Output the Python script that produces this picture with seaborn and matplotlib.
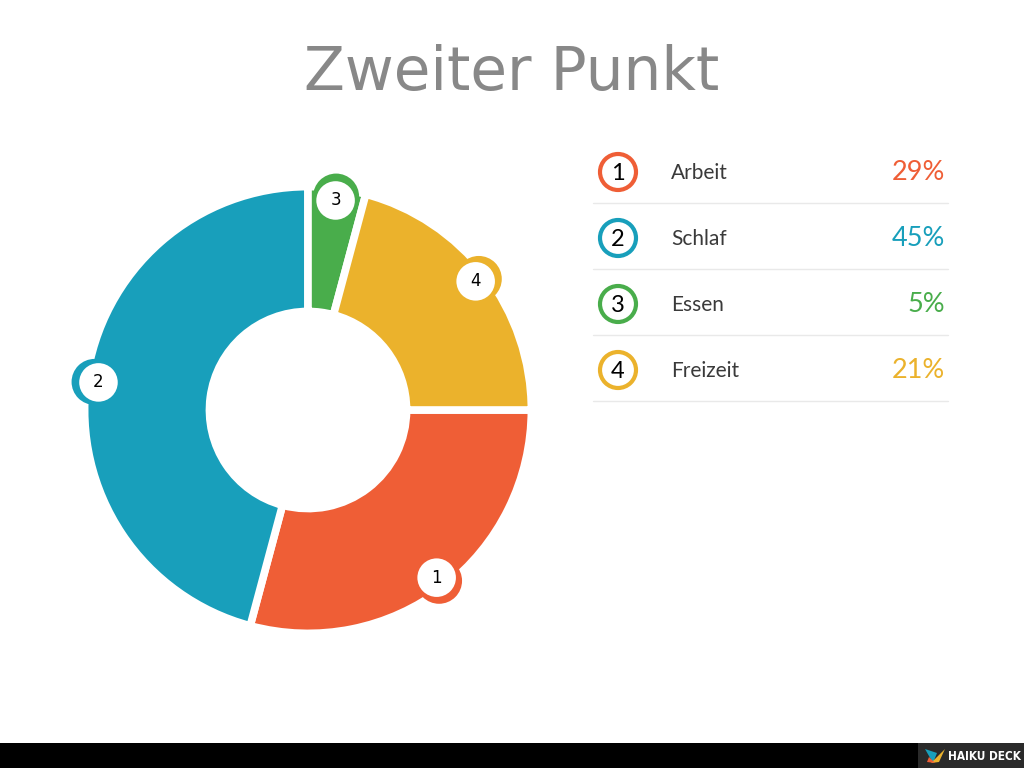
import matplotlib.pyplot as plt
import seaborn as sns
import numpy as np
from matplotlib.patches import Circle, Rectangle, Polygon

labels = ['Arbeit', 'Schlaf', 'Essen', 'Freizeit']
shares = [29, 45, 5, 21]             # percentages printed in the table
wedge_sizes = [7, 11, 1, 5]          # wedge sizes as drawn in the ring
numbers = ['1', '2', '3', '4']
colors = ['#EF5E36', '#189FBB', '#49AD4B', '#EBB22C']
title = 'Zweiter Punkt'

sns.set_theme(style='white')
plt.rcParams['font.family'] = ['DejaVu Sans']

fig = plt.figure(figsize=(10.24, 7.68), dpi=100)
fig.patch.set_facecolor('white')

# background axes in pixel coordinates (legend, footer)
bg = fig.add_axes([0, 0, 1, 1])
bg.set_xlim(0, 1024)
bg.set_ylim(768, 0)
bg.axis('off')

# donut axes: centre (308, 410), outer radius ~219 px
R = 219
half = 1.1 * R
ax = fig.add_axes([(308 - half) / 1024, (768 - 410 - half) / 768,
                   2 * half / 1024, 2 * half / 768])
wedges, _ = ax.pie(wedge_sizes, colors=sns.color_palette(colors), startangle=0,
                   counterclock=False, radius=1.02,
                   wedgeprops=dict(width=0.57, edgecolor='white', linewidth=5.5))
ax.set_xlim(-1.1, 1.1)
ax.set_ylim(-1.1, 1.1)
ax.set_aspect('equal')
ax.axis('off')

# number pins on the outer edge
for w, num, c in zip(wedges, numbers, colors):
    a = np.deg2rad((w.theta1 + w.theta2) / 2)
    r_pin = 0.965
    ax.add_patch(Circle(((r_pin + 0.018) * np.cos(a), (r_pin + 0.018) * np.sin(a)), 0.105,
                        facecolor=c, edgecolor='none', clip_on=False, zorder=3))
    ax.add_patch(Circle((r_pin * np.cos(a), r_pin * np.sin(a)), 0.088,
                        facecolor='white', edgecolor='none', clip_on=False, zorder=4))
    ax.text(r_pin * np.cos(a), r_pin * np.sin(a), num, ha='center', va='center',
            fontsize=12, color='black', zorder=5)

# title
fig.text(0.5, 1 - 90 / 768, title, ha='center', va='baseline', fontsize=43, color='#888888')

# legend table
row0, step = 172, 66
for i, (lab, val, num, c) in enumerate(zip(labels, shares, numbers, colors)):
    y = row0 + i * step
    bg.add_patch(Circle((618, y), 18, facecolor='white', edgecolor=c, linewidth=3))
    bg.text(618, y + 1, num, ha='center', va='center', fontsize=17, color='black',
            family=['Lato', 'DejaVu Sans'])
    bg.text(671, y + 1, lab, ha='left', va='center', fontsize=15, color='#3a3a3a',
            family=['Lato', 'DejaVu Sans'])
    bg.text(945, y + 1, f'{val}%', ha='right', va='center', fontsize=19.5, color=c,
            family=['Lato', 'DejaVu Sans'])
    bg.plot([593, 948], [y + 31, y + 31], color='#e9e9e9', linewidth=1)

# footer bar
bg.add_patch(Rectangle((0, 743), 1024, 25, facecolor='black', edgecolor='none'))
bg.add_patch(Rectangle((918, 743), 106, 25, facecolor='#2a2a2a', edgecolor='none'))
bg.add_patch(Polygon([[925, 749], [933, 763], [937, 753]], facecolor='#189FBB', edgecolor='none'))
bg.add_patch(Polygon([[931, 763], [945, 749], [939, 762]], facecolor='#EBB22C', edgecolor='none'))
bg.add_patch(Polygon([[929, 757], [935, 763], [927, 762]], facecolor='#EF5E36', edgecolor='none'))
bg.text(984, 756, 'HAIKU DECK', ha='center', va='center', fontsize=8.5, color='white',
        fontweight='bold', fontstretch='condensed')

fig.savefig('out.png', dpi=100)
